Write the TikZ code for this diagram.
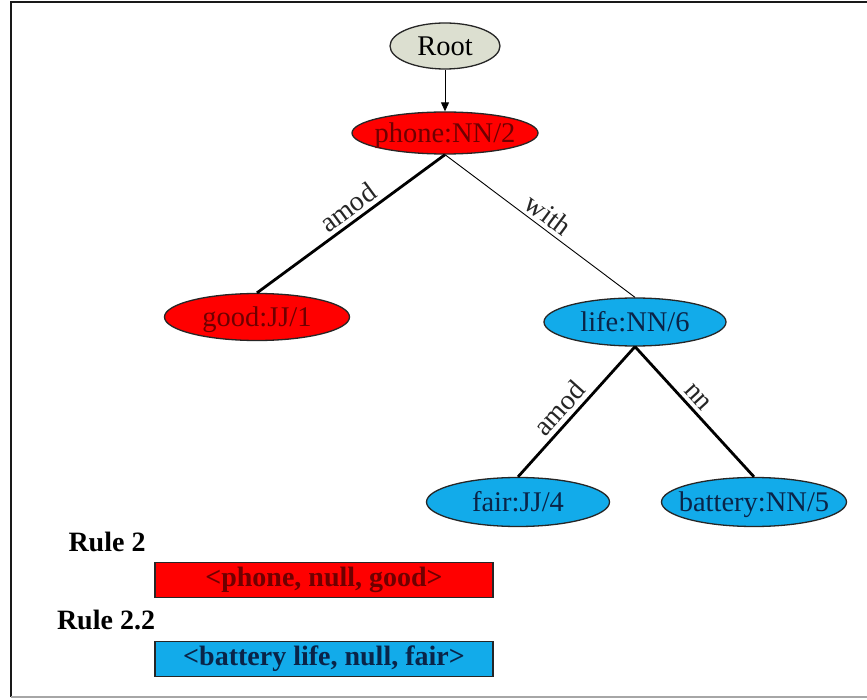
\documentclass[tikz,border=0pt]{standalone}
\usepackage{fontspec}
\setmainfont{Liberation Serif}
\usetikzlibrary{shapes.geometric,arrows.meta}
\definecolor{nodered}{HTML}{FF0000}
\definecolor{nodeblue}{HTML}{12ABEA}
\definecolor{rootfill}{HTML}{DCDFD0}
\definecolor{redtext}{HTML}{6E0000}
\definecolor{bluetext}{HTML}{0A2448}
\newcommand{\zt}[1]{\makebox[0pt]{\raisebox{-0.33em}[0pt][0pt]{#1}}}
\tikzset{
  ell/.style={ellipse, draw=black!85, line width=1.3pt, inner sep=0pt},
  rednode/.style={ell, fill=nodered, text=redtext},
  bluenode/.style={ell, fill=nodeblue, text=bluetext},
  rootnode/.style={ell, fill=rootfill, text=black},
  thickedge/.style={line width=2.8pt, black},
  thinedge/.style={line width=0.9pt, black},
  elabel/.style={font=\fontsize{28}{30}\selectfont, sloped, above, inner sep=4pt, text=black!85},
  rulebox/.style={draw=black!85, line width=1.3pt, minimum width=338pt, minimum height=35pt, inner sep=0pt, font=\bfseries\fontsize{28}{30}\selectfont},
  ruletitle/.style={font=\bfseries\fontsize{28}{30}\selectfont, inner sep=0pt}
}
\begin{document}
\begin{tikzpicture}[x=1pt,y=-1pt]
\useasboundingbox (0,0) rectangle (867,700);
\fill[white] (0,0) rectangle (867,700);
% frame
\draw[line width=2pt, black!90] (11,697) -- (11,2) -- (867,2);
\draw[line width=2pt, black!35] (11,697) -- (867,697);
\begin{scope}[every node/.append style={font=\fontsize{28.5}{30}\selectfont}]
\node[rootnode, minimum width=110pt, minimum height=46pt] (root) at (445,46) {\zt{Root}};
\node[rednode, minimum width=186pt, minimum height=42pt] (phone) at (445,133) {\zt{phone:NN/2}};
\node[rednode, minimum width=185pt, minimum height=47pt] (good) at (257,317) {\zt{good:JJ/1}};
\node[bluenode, minimum width=182pt, minimum height=48pt] (life) at (635,322) {\zt{life:NN/6}};
\node[bluenode, minimum width=183pt, minimum height=49pt] (fair) at (518,502) {\zt{fair:JJ/4}};
\node[bluenode, minimum width=185pt, minimum height=49pt] (battery) at (754,502) {\zt{battery:NN/5}};
\end{scope}
\draw[thinedge, -{Triangle[length=9pt,width=8pt]}] (root) -- (phone);
\draw[thickedge] (phone.south) -- (good.north) node[elabel, pos=0.47] {amod};
\draw[thinedge] (phone.south) -- (life.north) node[elabel, midway] {with};
\draw[thickedge] (life.south) -- (fair.north) node[elabel, pos=0.55] {amod};
\draw[thickedge] (life.south) -- (battery.north) node[elabel, pos=0.45] {nn};
\node[ruletitle] (r2) at (107,542) {Rule 2};
\node[rulebox, fill=nodered, text=redtext] (box1) at (324,580) {<phone, null, good>};
\node[ruletitle] (r22) at (106,620) {Rule 2.2};
\node[rulebox, fill=nodeblue, text=bluetext] (box2) at (324,659) {<battery life, null, fair>};
\end{tikzpicture}
\end{document}
